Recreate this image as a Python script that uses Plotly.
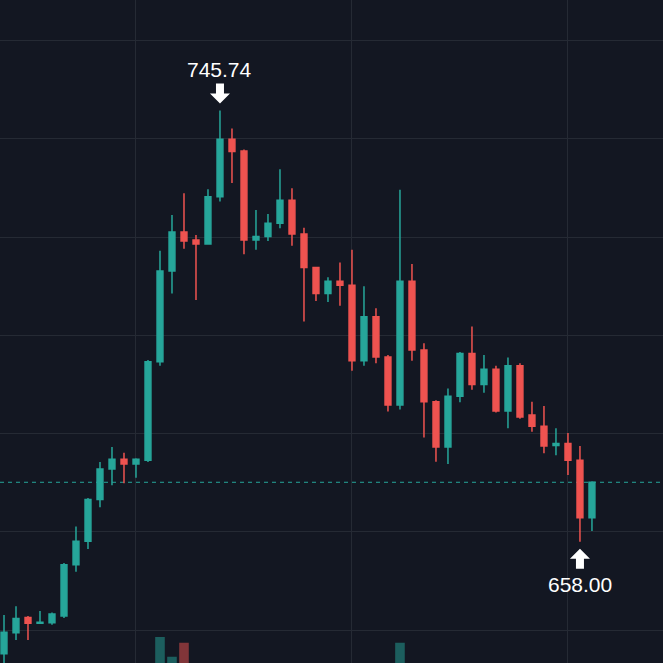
import plotly.graph_objects as go

# ---- data ----
idx = list(range(50))
open_ = [635.2, 639.5, 642.6, 641.4, 641.5, 642.9, 653.3, 658.1, 666.6, 672.8,
         674.8, 673.8, 674.6, 694.6, 713.1, 721.0, 719.4, 718.6, 728.2, 739.9,
         737.5, 719.4, 720.1, 722.8, 727.5, 720.6, 713.8, 708.5, 711.0, 710.2,
         694.8, 703.8, 695.6, 685.8, 711.0, 697.0, 686.5, 677.3, 687.6, 696.3,
         690.0, 693.1, 684.6, 693.8, 683.8, 681.5, 677.6, 678.0, 674.6, 662.9]
close = [639.6, 642.4, 641.4, 641.6, 643.3, 653.3, 658.1, 666.6, 672.8, 674.8,
         673.8, 674.8, 694.6, 713.1, 721.0, 719.2, 718.6, 728.2, 739.9, 737.4,
         719.4, 720.1, 722.8, 727.5, 720.6, 713.8, 708.5, 711.0, 710.2, 694.8,
         703.8, 695.6, 685.8, 711.0, 697.0, 686.5, 677.3, 687.6, 696.3, 690.0,
         693.1, 684.6, 693.8, 683.4, 681.5, 677.5, 678.0, 674.6, 662.9, 670.1]
high = [643.1, 644.9, 642.9, 643.9, 643.6, 653.7, 661.1, 666.9, 674.2, 677.3,
        676.1, 675.0, 695.0, 717.2, 724.5, 728.9, 720.4, 729.7, 745.74, 742.1,
        737.8, 725.5, 724.7, 733.8, 729.9, 721.9, 713.9, 711.8, 714.8, 717.4,
        710.0, 705.5, 696.0, 729.6, 714.5, 698.4, 686.8, 689.2, 696.6, 701.8,
        696.0, 693.8, 695.5, 694.3, 686.5, 685.6, 681.1, 680.1, 677.5, 670.3]
low = [633.0, 638.0, 638.0, 641.3, 641.1, 642.5, 651.9, 656.5, 665.0, 669.5,
       669.9, 671.0, 674.2, 693.8, 708.5, 717.6, 707.2, 718.4, 727.2, 731.0,
       716.5, 717.4, 719.2, 721.8, 718.2, 702.8, 707.0, 706.8, 706.0, 692.8,
       693.8, 694.3, 684.5, 684.9, 694.8, 679.2, 674.3, 673.8, 686.4, 688.9,
       688.3, 684.3, 681.1, 683.0, 680.4, 676.0, 675.6, 671.6, 658.0, 660.2]
volume = [22, 18, 15, 12, 14, 28, 24, 26, 25, 17,
          14, 13, 33, 42.0, 36.9, 40.5, 27, 22, 30, 24,
          33, 19, 15, 18, 21, 25, 17, 13, 12, 28,
          22, 19, 24, 40.5, 30, 26, 25, 27, 22, 20,
          15, 18, 21, 19, 12, 14, 11, 16, 31, 20]
grid_x = [11, 29, 47]
marker_lookback = 40  # high/low markers cover the last 40 bars

UP = "#26a69a"
DOWN = "#ef5350"
BG = "#131722"
GRID = "#252a34"

vol_colors = ["rgba(38,166,154,0.5)" if c >= o else "rgba(239,83,80,0.5)"
              for o, c in zip(open_, close)]

fig = go.Figure()
fig.add_trace(go.Bar(x=idx, y=volume, marker=dict(color=vol_colors, line=dict(width=0)),
                     yaxis="y2", width=0.8, hoverinfo="skip"))
fig.add_trace(go.Candlestick(
    x=idx, open=open_, high=high, low=low, close=close,
    increasing=dict(line=dict(color=UP, width=1.5), fillcolor=UP),
    decreasing=dict(line=dict(color=DOWN, width=1.5), fillcolor=DOWN),
    whiskerwidth=0,
))

window = idx[-marker_lookback:]
hi_i = max(window, key=lambda i: high[i])
lo_i = min(window, key=lambda i: low[i])
hi_v = high[hi_i]
lo_v = low[lo_i]

shapes = [
    dict(type="line", xref="paper", x0=0, x1=1, yref="y", y0=close[-1], y1=close[-1],
         line=dict(color=UP, width=1, dash="4px,4px"), layer="below"),
    dict(type="path", xref="x", yref="y", xsizemode="pixel", ysizemode="pixel",
         xanchor=hi_i, yanchor=hi_v,
         path="M-4,27 L4,27 L4,17 L10,17 L0,7 L-10,17 L-4,17 Z",
         fillcolor="white", line=dict(width=0)),
    dict(type="path", xref="x", yref="y", xsizemode="pixel", ysizemode="pixel",
         xanchor=lo_i, yanchor=lo_v,
         path="M-4,-27 L4,-27 L4,-17 L10,-17 L0,-7 L-10,-17 L-4,-17 Z",
         fillcolor="white", line=dict(width=0)),
]

annotations = [
    dict(x=hi_i, y=hi_v, xref="x", yref="y", text=f"{hi_v:.2f}", showarrow=False,
         yshift=41, font=dict(family="Liberation Sans, Arial", size=21, color="white")),
    dict(x=lo_i, y=lo_v, xref="x", yref="y", text=f"{lo_v:.2f}", showarrow=False,
         yshift=-43, font=dict(family="Liberation Sans, Arial", size=21, color="white")),
]

fig.update_layout(
    width=663, height=663,
    margin=dict(l=0, r=0, t=0, b=0),
    paper_bgcolor=BG, plot_bgcolor=BG,
    showlegend=False,
    shapes=shapes, annotations=annotations,
    xaxis=dict(range=[-0.333, 54.92], tickvals=grid_x, showticklabels=False,
               showgrid=True, gridcolor=GRID, gridwidth=1, zeroline=False,
               showline=False, rangeslider=dict(visible=False), ticks=""),
    yaxis=dict(range=[633.33, 768.22], dtick=20, tick0=0, showticklabels=False,
               showgrid=True, gridcolor=GRID, gridwidth=1, zeroline=False,
               showline=False, ticks=""),
    yaxis2=dict(overlaying="y", range=[35.3, 206.2], visible=False,
                showgrid=False, zeroline=False),
    bargap=0.2,
)

fig.write_html("out.html")
